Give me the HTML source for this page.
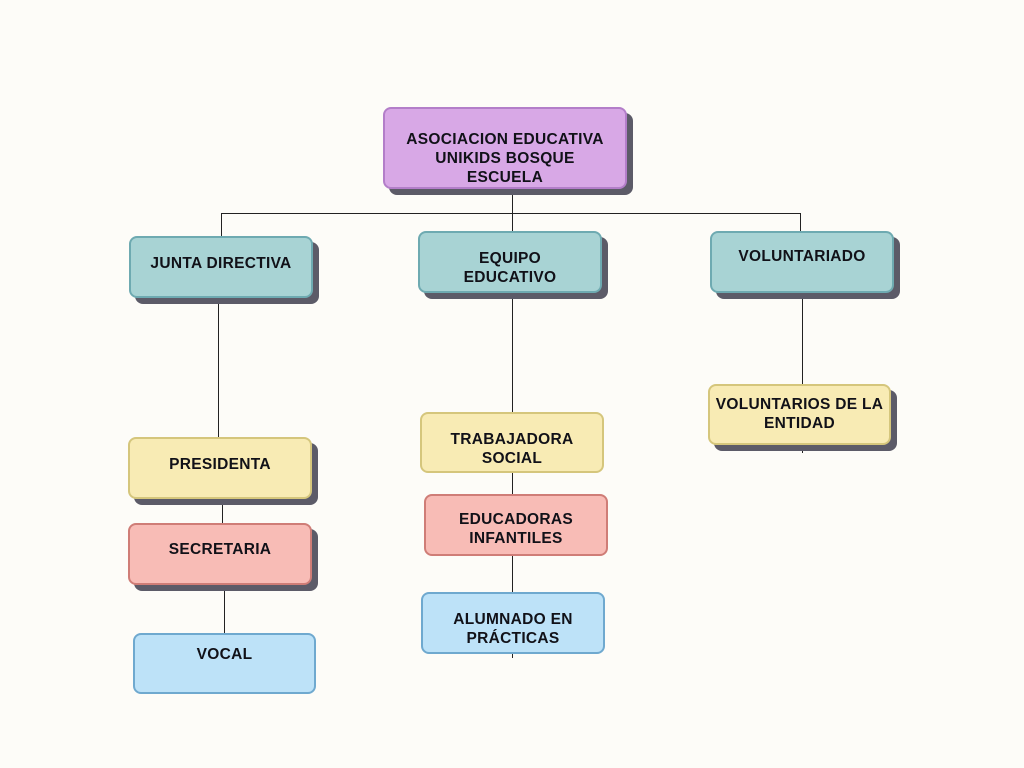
<!DOCTYPE html>
<html><head><meta charset="utf-8"><style>
body{margin:0;width:1024px;height:768px;background:#fdfcf8;position:relative;overflow:hidden;font-family:"Liberation Sans",sans-serif}
.b{position:absolute;box-sizing:border-box;border:2px solid;border-radius:8px;text-align:center;font-weight:bold;font-size:15.5px;line-height:19px;color:#111118;letter-spacing:0.3px}
.s{box-shadow:6px 6px 0 #5c5b68}
.l{position:absolute;background:#222}
.p{background:#d8a8e6;border-color:#b37ec9}
.t{background:#a8d3d4;border-color:#6eaab1}
.y{background:#f8ebb4;border-color:#d5c67c}
.r{background:#f8bcb6;border-color:#cf7d77}
.u{background:#bde2f8;border-color:#6fa9cf}
</style></head><body>
<div class="l" style="left:221px;top:213px;width:580px;height:1px"></div>
<div class="l" style="left:221px;top:213px;width:1px;height:23px"></div>
<div class="l" style="left:512px;top:189px;width:1px;height:42px"></div>
<div class="l" style="left:800px;top:213px;width:1px;height:18px"></div>
<div class="l" style="left:218px;top:298px;width:1px;height:139px"></div>
<div class="l" style="left:222px;top:499px;width:1px;height:24px"></div>
<div class="l" style="left:224px;top:585px;width:1px;height:48px"></div>
<div class="l" style="left:512px;top:293px;width:1px;height:365px"></div>
<div class="l" style="left:802px;top:293px;width:1px;height:160px"></div>

<div class="b p s" style="left:383px;top:107px;width:244px;height:82px;padding-top:21px">ASOCIACION EDUCATIVA<br>UNIKIDS BOSQUE<br>ESCUELA</div>
<div class="b t s" style="left:129px;top:236px;width:184px;height:62px;padding-top:16px">JUNTA DIRECTIVA</div>
<div class="b t s" style="left:418px;top:231px;width:184px;height:62px;padding-top:16px">EQUIPO<br>EDUCATIVO</div>
<div class="b t s" style="left:710px;top:231px;width:184px;height:62px;padding-top:14px">VOLUNTARIADO</div>
<div class="b y s" style="left:128px;top:437px;width:184px;height:62px;padding-top:16px">PRESIDENTA</div>
<div class="b r s" style="left:128px;top:523px;width:184px;height:62px;padding-top:15px">SECRETARIA</div>
<div class="b u" style="left:133px;top:633px;width:183px;height:61px;padding-top:10px">VOCAL</div>
<div class="b y" style="left:420px;top:412px;width:184px;height:61px;padding-top:16px">TRABAJADORA<br>SOCIAL</div>
<div class="b r" style="left:424px;top:494px;width:184px;height:62px;padding-top:14px">EDUCADORAS<br>INFANTILES</div>
<div class="b u" style="left:421px;top:592px;width:184px;height:62px;padding-top:16px">ALUMNADO EN<br>PRÁCTICAS</div>
<div class="b y s" style="left:708px;top:384px;width:183px;height:61px;padding-top:9px">VOLUNTARIOS DE LA<br>ENTIDAD</div>
</body></html>
